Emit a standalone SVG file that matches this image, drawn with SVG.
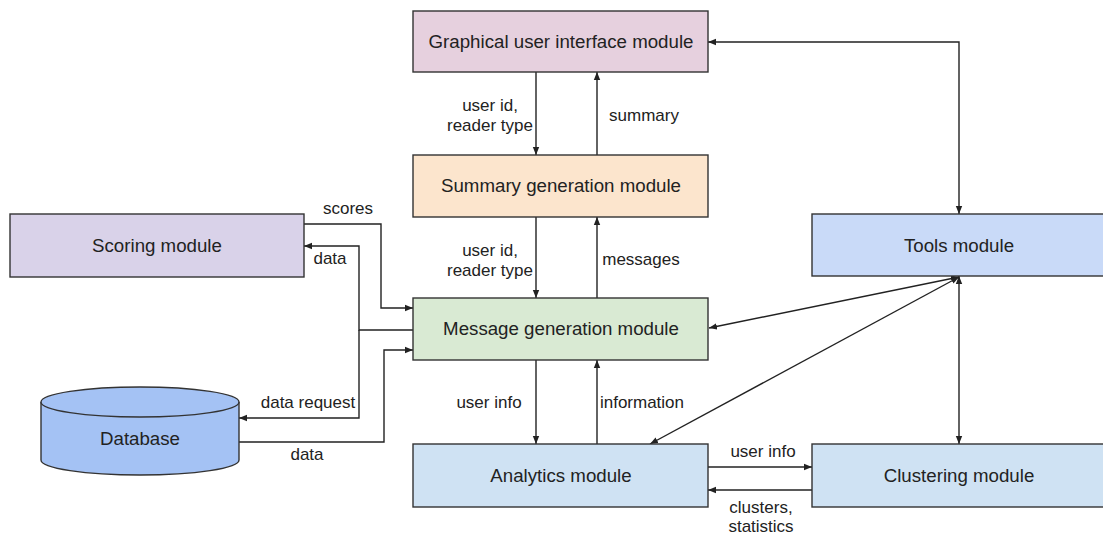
<svg xmlns="http://www.w3.org/2000/svg" width="1103" height="537" viewBox="0 0 1103 537">
  <defs>
    <marker id="arr" viewBox="0 0 10 10" refX="10" refY="5" markerWidth="8" markerHeight="8" markerUnits="userSpaceOnUse" orient="auto-start-reverse">
      <path d="M0,1 L10,5 L0,9 Z" fill="#222"/>
    </marker>
    <style>
      .box { stroke: #333; stroke-width: 1.4; }
      .node-label { font-family: "Liberation Sans", Arial, sans-serif; font-size: 18.7px; fill: #222; text-anchor: middle; }
      .edge-label { font-family: "Liberation Sans", Arial, sans-serif; font-size: 17px; fill: #222; text-anchor: middle; }
      .edge { fill: none; stroke: #222; stroke-width: 1.4; }
    </style>
  </defs>
  <rect width="1103" height="537" fill="#ffffff"/>

  <!-- connectors -->
  <g id="connectors">
    <!-- GUI <-> Summary -->
    <line class="edge" x1="536" y1="72" x2="536" y2="155" marker-end="url(#arr)"/>
    <line class="edge" x1="597" y1="155" x2="597" y2="72" marker-end="url(#arr)"/>
    <!-- Summary <-> Message -->
    <line class="edge" x1="536" y1="217" x2="536" y2="298" marker-end="url(#arr)"/>
    <line class="edge" x1="597" y1="298" x2="597" y2="217" marker-end="url(#arr)"/>
    <!-- Message <-> Analytics -->
    <line class="edge" x1="536" y1="360" x2="536" y2="444" marker-end="url(#arr)"/>
    <line class="edge" x1="597" y1="444" x2="597" y2="360" marker-end="url(#arr)"/>
    <!-- Tools <-> GUI -->
    <polyline class="edge" points="708,42 959,42 959,214" marker-start="url(#arr)" marker-end="url(#arr)"/>
    <!-- Tools <-> Clustering -->
    <line class="edge" x1="959" y1="276" x2="959" y2="444" marker-start="url(#arr)" marker-end="url(#arr)"/>
    <!-- Tools <-> Message -->
    <line class="edge" x1="959" y1="277" x2="709" y2="328" marker-start="url(#arr)" marker-end="url(#arr)"/>
    <!-- Tools <-> Analytics -->
    <line class="edge" x1="959" y1="277" x2="650" y2="444" marker-start="url(#arr)" marker-end="url(#arr)"/>
    <!-- Analytics <-> Clustering -->
    <line class="edge" x1="708" y1="467" x2="812" y2="467" marker-end="url(#arr)"/>
    <line class="edge" x1="812" y1="490" x2="708" y2="490" marker-end="url(#arr)"/>
    <!-- Scoring -> Message (scores) -->
    <polyline class="edge" points="304,224 381,224 381,308 413,308" marker-end="url(#arr)"/>
    <!-- Message -> Scoring / Database (data, data request) -->
    <polyline class="edge" points="413,330 359,330 359,246 304,246" marker-end="url(#arr)"/>
    <polyline class="edge" points="359,330 359,418 239,418" marker-end="url(#arr)"/>
    <!-- Database -> Message (data) -->
    <polyline class="edge" points="239,442 384,442 384,350 413,350" marker-end="url(#arr)"/>

    <text class="edge-label" x="490" y="111">user id,</text>
    <text class="edge-label" x="490" y="131">reader type</text>
    <text class="edge-label" x="644" y="121">summary</text>
    <text class="edge-label" x="490" y="256">user id,</text>
    <text class="edge-label" x="490" y="276">reader type</text>
    <text class="edge-label" x="641" y="265">messages</text>
    <text class="edge-label" x="489" y="408">user info</text>
    <text class="edge-label" x="642" y="408">information</text>
    <text class="edge-label" x="763" y="457">user info</text>
    <text class="edge-label" x="761" y="513">clusters,</text>
    <text class="edge-label" x="761" y="532">statistics</text>
    <text class="edge-label" x="348" y="214">scores</text>
    <text class="edge-label" x="330" y="264">data</text>
    <text class="edge-label" x="308" y="408">data request</text>
    <text class="edge-label" x="307" y="460">data</text>
  </g>

  <g id="gui">
    <rect class="box" x="413" y="11" width="295" height="61" fill="#e6d0de"/>
    <text class="node-label" x="561" y="48">Graphical user interface module</text>
  </g>
  <g id="summary">
    <rect class="box" x="413" y="155" width="295" height="62" fill="#fce5cd"/>
    <text class="node-label" x="561" y="192">Summary generation module</text>
  </g>
  <g id="message">
    <rect class="box" x="413" y="298" width="295" height="62" fill="#d9ead3"/>
    <text class="node-label" x="561" y="335">Message generation module</text>
  </g>
  <g id="analytics">
    <rect class="box" x="413" y="444" width="295" height="63" fill="#cfe2f3"/>
    <text class="node-label" x="561" y="482">Analytics module</text>
  </g>
  <g id="tools">
    <rect class="box" x="812" y="214" width="293" height="62" fill="#c9daf8"/>
    <text class="node-label" x="959" y="252">Tools module</text>
  </g>
  <g id="clustering">
    <rect class="box" x="812" y="444" width="293" height="63" fill="#cfe2f3"/>
    <text class="node-label" x="959" y="482">Clustering module</text>
  </g>
  <g id="scoring">
    <rect class="box" x="10" y="214" width="294" height="63" fill="#d9d2e9"/>
    <text class="node-label" x="157" y="252">Scoring module</text>
  </g>
  <g id="database">
    <path class="box" d="M41,402 L41,460 A99,15 0 0 0 239,460 L239,402" fill="#a4c2f4"/>
    <ellipse class="box" cx="140" cy="402" rx="99" ry="15" fill="#a4c2f4"/>
    <text class="node-label" x="140" y="445">Database</text>
  </g>
</svg>
